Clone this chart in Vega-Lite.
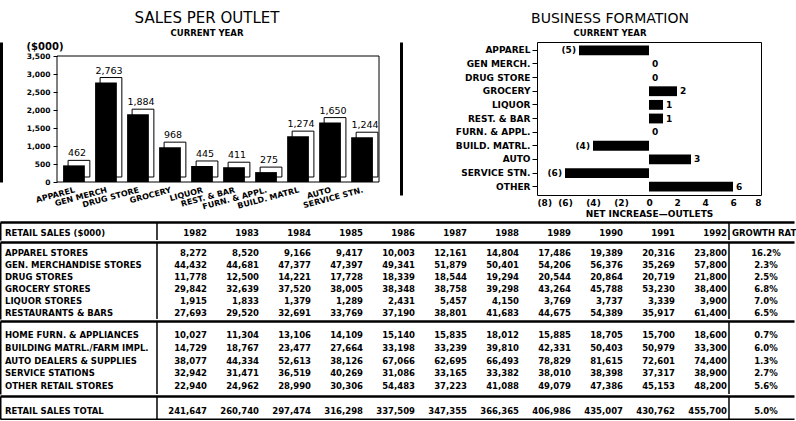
{
  "$schema": "https://vega.github.io/schema/vega-lite/v6.json",
  "background": "white",
  "padding": {"left": 0, "top": 10, "right": 0, "bottom": 0},
  "spacing": 2,
  "config": {
    "font": "DejaVu Sans",
    "view": {"stroke": "black", "strokeWidth": 1},
    "axis": {"labelColor": "black", "tickColor": "black", "domainColor": "black", "titleColor": "black", "labelFont": "DejaVu Sans", "titleFont": "DejaVu Sans", "grid": false},
    "title": {"font": "DejaVu Sans", "color": "black", "fontWeight": "normal", "subtitleFont": "DejaVu Sans", "subtitleColor": "black", "subtitleFontWeight": "bold"}
  },
  "datasets": {
    "outlet": [
      {"cat": "APPAREL", "value": 462},
      {"cat": "GEN MERCH", "value": 2763},
      {"cat": "DRUG STORE", "value": 1884},
      {"cat": "GROCERY", "value": 968},
      {"cat": "LIQUOR", "value": 445},
      {"cat": "REST. & BAR", "value": 411},
      {"cat": "FURN. & APPL.", "value": 275},
      {"cat": "BUILD. MATRL", "value": 1274},
      {"cat": "AUTO", "value": 1650},
      {"cat": "SERVICE STN.", "value": 1244}
    ],
    "formation": [
      {"cat": "APPAREL", "value": -5},
      {"cat": "GEN MERCH.", "value": 0},
      {"cat": "DRUG STORE", "value": 0},
      {"cat": "GROCERY", "value": 2},
      {"cat": "LIQUOR", "value": 1},
      {"cat": "REST. & BAR", "value": 1},
      {"cat": "FURN. & APPL.", "value": 0},
      {"cat": "BUILD. MATRL.", "value": -4},
      {"cat": "AUTO", "value": 3},
      {"cat": "SERVICE STN.", "value": -6},
      {"cat": "OTHER", "value": 6}
    ],
    "table": [
      {"sec": "h", "row": "RETAIL SALES ($000)", "1982": "1982", "1983": "1983", "1984": "1984", "1985": "1985", "1986": "1986", "1987": "1987", "1988": "1988", "1989": "1989", "1990": "1990", "1991": "1991", "1992": "1992", "GR": "GROWTH RAT"},
      {"sec": "b1", "row": "APPAREL STORES", "1982": "8,272", "1983": "8,520", "1984": "9,166", "1985": "9,417", "1986": "10,003", "1987": "12,161", "1988": "14,804", "1989": "17,486", "1990": "19,389", "1991": "20,316", "1992": "23,800", "GR": "16.2%"},
      {"sec": "b1", "row": "GEN. MERCHANDISE STORES", "1982": "44,432", "1983": "44,681", "1984": "47,377", "1985": "47,397", "1986": "49,341", "1987": "51,879", "1988": "50,401", "1989": "54,206", "1990": "56,376", "1991": "35,269", "1992": "57,800", "GR": "2.3%"},
      {"sec": "b1", "row": "DRUG STORES", "1982": "11,778", "1983": "12,500", "1984": "14,221", "1985": "17,728", "1986": "18,339", "1987": "18,544", "1988": "19,294", "1989": "20,544", "1990": "20,864", "1991": "20,719", "1992": "21,800", "GR": "2.5%"},
      {"sec": "b1", "row": "GROCERY STORES", "1982": "29,842", "1983": "32,639", "1984": "37,520", "1985": "38,005", "1986": "38,348", "1987": "38,758", "1988": "39,298", "1989": "43,264", "1990": "45,788", "1991": "53,230", "1992": "38,400", "GR": "6.8%"},
      {"sec": "b1", "row": "LIQUOR STORES", "1982": "1,915", "1983": "1,833", "1984": "1,379", "1985": "1,289", "1986": "2,431", "1987": "5,457", "1988": "4,150", "1989": "3,769", "1990": "3,737", "1991": "3,339", "1992": "3,900", "GR": "7.0%"},
      {"sec": "b1", "row": "RESTAURANTS & BARS", "1982": "27,693", "1983": "29,520", "1984": "32,691", "1985": "33,769", "1986": "37,190", "1987": "38,801", "1988": "41,683", "1989": "44,675", "1990": "54,389", "1991": "35,917", "1992": "61,400", "GR": "6.5%"},
      {"sec": "b2", "row": "HOME FURN. & APPLIANCES", "1982": "10,027", "1983": "11,304", "1984": "13,106", "1985": "14,109", "1986": "15,140", "1987": "15,835", "1988": "18,012", "1989": "15,885", "1990": "18,705", "1991": "15,700", "1992": "18,600", "GR": "0.7%"},
      {"sec": "b2", "row": "BUILDING MATRL./FARM IMPL.", "1982": "14,729", "1983": "18,767", "1984": "23,477", "1985": "27,664", "1986": "33,198", "1987": "33,239", "1988": "39,810", "1989": "42,331", "1990": "50,403", "1991": "50,979", "1992": "33,300", "GR": "6.0%"},
      {"sec": "b2", "row": "AUTO DEALERS & SUPPLIES", "1982": "38,077", "1983": "44,334", "1984": "52,613", "1985": "38,126", "1986": "67,066", "1987": "62,695", "1988": "66,493", "1989": "78,829", "1990": "81,615", "1991": "72,601", "1992": "74,400", "GR": "1.3%"},
      {"sec": "b2", "row": "SERVICE STATIONS", "1982": "32,942", "1983": "31,471", "1984": "36,519", "1985": "40,269", "1986": "31,086", "1987": "33,165", "1988": "33,382", "1989": "38,010", "1990": "38,398", "1991": "37,317", "1992": "38,900", "GR": "2.7%"},
      {"sec": "b2", "row": "OTHER RETAIL STORES", "1982": "22,940", "1983": "24,962", "1984": "28,990", "1985": "30,306", "1986": "54,483", "1987": "37,223", "1988": "41,088", "1989": "49,079", "1990": "47,386", "1991": "45,153", "1992": "48,200", "GR": "5.6%"},
      {"sec": "t", "row": "RETAIL SALES TOTAL", "1982": "241,647", "1983": "260,740", "1984": "297,474", "1985": "316,298", "1986": "337,509", "1987": "347,355", "1988": "366,365", "1989": "406,986", "1990": "435,007", "1991": "430,762", "1992": "455,700", "GR": "5.0%"}
    ]
  },
  "resolve": {"scale": {"x": "independent", "y": "independent"}},
  "vconcat": [
    {
      "spacing": 0,
      "resolve": {"scale": {"x": "independent", "y": "independent"}},
      "hconcat": [
        {
          "width": 1, "height": 1,
          "view": {"stroke": null},
          "data": {"values": []},
          "mark": {"type": "rule"},
          "encoding": {}
        },
        {
          "spacing": 20,
          "resolve": {"scale": {"x": "independent", "y": "independent"}},
          "hconcat": [
            {
              "width": 322,
              "height": 140,
              "view": {"stroke": null},
              "data": {"name": "outlet"},
              "title": {"text": "SALES PER OUTLET", "subtitle": "CURRENT YEAR", "fontSize": 15, "subtitleFontSize": 8.5, "subtitlePadding": 3, "offset": 4, "dx": -11, "anchor": "middle", "frame": "group"},
              "layer": [
                {
                  "data": {"values": [{"lo": 0, "hi": 3500}]},
                  "mark": {"type": "rect", "fill": null, "fillOpacity": 0, "stroke": "black", "strokeWidth": 1},
                  "encoding": {
                    "y": {"field": "lo", "type": "quantitative", "axis": null},
                    "y2": {"field": "hi"}
                  }
                },
                {
                  "mark": {"type": "bar", "fill": "white", "stroke": "black", "strokeWidth": 1, "xOffset": 5, "x2Offset": 5, "yOffset": -5, "y2Offset": -5},
                  "encoding": {
                    "x": {"field": "cat", "type": "nominal", "sort": null,
                      "scale": {"domain": ["APPAREL", "GEN MERCH", "DRUG STORE", "GROCERY", "LIQUOR", "REST. & BAR", "FURN. & APPL.", "BUILD. MATRL", "AUTO", "SERVICE STN."], "paddingInner": 0.32, "paddingOuter": 0.19},
                      "axis": {"title": null, "labelAngle": -15, "labelAlign": "right", "labelBaseline": "top", "labelFontSize": 8, "labelFontWeight": "bold", "ticks": false, "domain": false, "labelPadding": 4}},
                    "y": {"field": "value", "type": "quantitative", "scale": {"domain": [0, 3889], "nice": false},
                      "axis": {"orient": "left", "offset": 56, "domainWidth": 3, "labels": false, "ticks": false, "title": null}}
                  }
                },
                {
                  "mark": {"type": "bar", "fill": "black"},
                  "encoding": {
                    "x": {"field": "cat", "type": "nominal", "sort": null},
                    "y": {"field": "value", "type": "quantitative",
                      "axis": {"orient": "left", "values": [0, 500, 1000, 1500, 2000, 2500, 3000, 3500], "labelExpr": "format(datum.value, ',')", "labelFontSize": 7.5, "labelFontWeight": "bold", "tickSize": 4, "labelPadding": 3, "domain": false, "title": "($000)", "titleAngle": 0, "titleAlign": "left", "titleBaseline": "bottom", "titleX": -31, "titleY": 9, "titleFontSize": 10, "titleFontWeight": "bold"}}
                  }
                },
                {
                  "mark": {"type": "text", "baseline": "bottom", "dy": -7, "dx": 3, "fontSize": 9.5, "fontWeight": "normal", "color": "black"},
                  "encoding": {
                    "x": {"field": "cat", "type": "nominal", "sort": null},
                    "y": {"field": "value", "type": "quantitative", "axis": null},
                    "text": {"field": "value", "format": ","}
                  }
                }
              ],
              "resolve": {"axis": {"y": "independent"}}
            },
            {
              "width": 224,
              "height": 153,
              "data": {"name": "formation"},
              "title": {"text": "BUSINESS FORMATION", "subtitle": "CURRENT YEAR", "fontSize": 14, "subtitleFontSize": 8.5, "subtitlePadding": 3, "offset": 5, "dx": -39, "anchor": "middle", "frame": "group"},
              "encoding": {
                "x": {"field": "value", "type": "quantitative", "scale": {"domain": [-8, 8], "nice": false},
                  "axis": {"values": [-8, -6, -4, -2, 0, 2, 4, 6, 8], "format": "(d", "labelFontSize": 9, "labelFontWeight": "bold", "ticks": false, "domain": false, "labelPadding": 3, "title": "NET INCREASE—OUTLETS", "titleFontSize": 9, "titleFontWeight": "bold", "titlePadding": 2}}
              },
              "layer": [
                {
                  "mark": {"type": "bar", "fill": "black"},
                  "encoding": {"y": {"field": "cat", "type": "nominal", "sort": null,
                    "scale": {"domain": ["APPAREL", "GEN MERCH.", "DRUG STORE", "GROCERY", "LIQUOR", "REST. & BAR", "FURN. & APPL.", "BUILD. MATRL.", "AUTO", "SERVICE STN.", "OTHER"], "paddingInner": 0.28, "paddingOuter": 0.25},
                    "axis": {"orient": "left", "title": null, "labelFontSize": 9, "labelFontWeight": "bold", "tickSize": 5, "labelPadding": 2, "domain": false}}}
                },
                {
                  "transform": [{"filter": "datum.value < 0"}],
                  "mark": {"type": "text", "align": "right", "baseline": "middle", "dx": -3, "fontSize": 9, "fontWeight": "bold", "color": "black"},
                  "encoding": {"y": {"field": "cat", "type": "nominal", "sort": null,
                    "axis": {"orient": "left", "offset": 136, "domainWidth": 3, "labels": false, "ticks": false, "title": null}},
                    "text": {"field": "value", "format": "(d"}}
                },
                {
                  "transform": [{"filter": "datum.value >= 0"}],
                  "mark": {"type": "text", "align": "left", "baseline": "middle", "dx": 3, "fontSize": 9, "fontWeight": "bold", "color": "black"},
                  "encoding": {"y": {"field": "cat", "type": "nominal", "sort": null, "axis": null},
                    "text": {"field": "value", "format": "d"}}
                }
              ],
              "resolve": {"axis": {"y": "independent"}}
            }
          ]
        }
      ]
    },
    {
      "spacing": 0,
      "resolve": {"scale": {"x": "independent", "y": "independent"}},
      "vconcat": [
        {
          "width": 794, "height": 18,
          "view": {"stroke": null},
          "data": {"name": "table"},
          "layer": [
            {"transform": [{"filter": "datum.sec == 'h'"}],
              "mark": {"type": "text", "align": "left", "baseline": "middle", "dx": 4, "fontSize": 8.5, "fontWeight": "bold", "color": "black"},
              "encoding": {"x": {"datum": "L1", "type": "nominal", "bandPosition": 0,
                "axis": {"orient": "top", "domain": true, "domainWidth": 2.5, "labels": false, "ticks": false, "title": null},
                "scale": {"type": "band", "domain": ["L1", "L2", "L3", "1982", "1983", "1984", "1985", "1986", "1987", "1988", "1989", "1990", "1991", "1992", "GR"], "paddingInner": 0, "paddingOuter": 0.1346, "align": 0.071}},
                "y": {"field": "row", "type": "nominal", "axis": {"orient": "left", "domain": true, "domainWidth": 2, "labels": false, "ticks": false, "title": null}, "scale": {"type": "band", "domain": ["RETAIL SALES ($000)"], "paddingInner": 0, "paddingOuter": 0.5, "align": 0.7}},
                "text": {"field": "row"}}},
            {"transform": [{"filter": "datum.sec == 'h'"}, {"fold": ["1982", "1983", "1984", "1985", "1986", "1987", "1988", "1989", "1990", "1991", "1992"], "as": ["col", "val"]}],
              "mark": {"type": "text", "align": "right", "baseline": "middle", "dx": -2, "fontSize": 8.5, "fontWeight": "bold", "color": "black"},
              "encoding": {"x": {"field": "col", "type": "nominal", "bandPosition": 1}, "y": {"field": "row", "type": "nominal"}, "text": {"field": "val"}}},
            {"transform": [{"filter": "datum.sec == 'h'"}, {"fold": ["GR"], "as": ["col", "val"]}],
              "mark": {"type": "text", "align": "left", "baseline": "middle", "dx": 3, "fontSize": 8.5, "fontWeight": "bold", "color": "black"},
              "encoding": {"x": {"field": "col", "type": "nominal", "bandPosition": 0}, "y": {"field": "row", "type": "nominal"}, "text": {"field": "val"}}},
            {"data": {"values": [{"col": "1982"}, {"col": "GR"}]},
              "mark": {"type": "rule", "strokeWidth": 1.5, "color": "black"},
              "encoding": {"x": {"field": "col", "type": "nominal", "bandPosition": 0}}}
          ]
        },
        {
          "width": 794, "height": 77,
          "view": {"stroke": null},
          "data": {"name": "table"},
          "layer": [
            {"transform": [{"filter": "datum.sec == 'b1'"}],
              "mark": {"type": "text", "align": "left", "baseline": "middle", "dx": 4, "fontSize": 8.5, "fontWeight": "bold", "color": "black"},
              "encoding": {"x": {"datum": "L1", "type": "nominal", "bandPosition": 0,
                "axis": {"orient": "top", "domain": true, "domainWidth": 2.5, "labels": false, "ticks": false, "title": null},
                "scale": {"type": "band", "domain": ["L1", "L2", "L3", "1982", "1983", "1984", "1985", "1986", "1987", "1988", "1989", "1990", "1991", "1992", "GR"], "paddingInner": 0, "paddingOuter": 0.1346, "align": 0.071}},
                "y": {"field": "row", "type": "nominal", "axis": {"orient": "left", "domain": true, "domainWidth": 2, "labels": false, "ticks": false, "title": null}, "scale": {"type": "band", "domain": ["APPAREL STORES", "GEN. MERCHANDISE STORES", "DRUG STORES", "GROCERY STORES", "LIQUOR STORES", "RESTAURANTS & BARS"], "paddingInner": 0, "paddingOuter": 0.208, "align": 1}},
                "text": {"field": "row"}}},
            {"transform": [{"filter": "datum.sec == 'b1'"}, {"fold": ["1982", "1983", "1984", "1985", "1986", "1987", "1988", "1989", "1990", "1991", "1992"], "as": ["col", "val"]}],
              "mark": {"type": "text", "align": "right", "baseline": "middle", "dx": -2, "fontSize": 8.5, "fontWeight": "bold", "color": "black"},
              "encoding": {"x": {"field": "col", "type": "nominal", "bandPosition": 1}, "y": {"field": "row", "type": "nominal"}, "text": {"field": "val"}}},
            {"transform": [{"filter": "datum.sec == 'b1'"}, {"fold": ["GR"], "as": ["col", "val"]}],
              "mark": {"type": "text", "align": "center", "baseline": "middle", "fontSize": 8.5, "fontWeight": "bold", "color": "black"},
              "encoding": {"x": {"field": "col", "type": "nominal", "bandPosition": 0.71}, "y": {"field": "row", "type": "nominal"}, "text": {"field": "val"}}},
            {"data": {"values": [{"col": "1982"}, {"col": "GR"}]},
              "mark": {"type": "rule", "strokeWidth": 1.5, "color": "black"},
              "encoding": {"x": {"field": "col", "type": "nominal", "bandPosition": 0}}}
          ]
        },
        {
          "width": 794, "height": 73,
          "view": {"stroke": null},
          "data": {"name": "table"},
          "layer": [
            {"transform": [{"filter": "datum.sec == 'b2'"}],
              "mark": {"type": "text", "align": "left", "baseline": "middle", "dx": 4, "fontSize": 8.5, "fontWeight": "bold", "color": "black"},
              "encoding": {"x": {"datum": "L1", "type": "nominal", "bandPosition": 0,
                "axis": {"orient": "top", "domain": true, "domainWidth": 2.5, "labels": false, "ticks": false, "title": null},
                "scale": {"type": "band", "domain": ["L1", "L2", "L3", "1982", "1983", "1984", "1985", "1986", "1987", "1988", "1989", "1990", "1991", "1992", "GR"], "paddingInner": 0, "paddingOuter": 0.1346, "align": 0.071}},
                "y": {"field": "row", "type": "nominal", "axis": {"orient": "left", "domain": true, "domainWidth": 2, "labels": false, "ticks": false, "title": null}, "scale": {"type": "band", "domain": ["HOME FURN. & APPLIANCES", "BUILDING MATRL./FARM IMPL.", "AUTO DEALERS & SUPPLIES", "SERVICE STATIONS", "OTHER RETAIL STORES"], "paddingInner": 0, "paddingOuter": 0.4, "align": 0.81}},
                "text": {"field": "row"}}},
            {"transform": [{"filter": "datum.sec == 'b2'"}, {"fold": ["1982", "1983", "1984", "1985", "1986", "1987", "1988", "1989", "1990", "1991", "1992"], "as": ["col", "val"]}],
              "mark": {"type": "text", "align": "right", "baseline": "middle", "dx": -2, "fontSize": 8.5, "fontWeight": "bold", "color": "black"},
              "encoding": {"x": {"field": "col", "type": "nominal", "bandPosition": 1}, "y": {"field": "row", "type": "nominal"}, "text": {"field": "val"}}},
            {"transform": [{"filter": "datum.sec == 'b2'"}, {"fold": ["GR"], "as": ["col", "val"]}],
              "mark": {"type": "text", "align": "center", "baseline": "middle", "fontSize": 8.5, "fontWeight": "bold", "color": "black"},
              "encoding": {"x": {"field": "col", "type": "nominal", "bandPosition": 0.71}, "y": {"field": "row", "type": "nominal"}, "text": {"field": "val"}}},
            {"data": {"values": [{"col": "1982"}, {"col": "GR"}]},
              "mark": {"type": "rule", "strokeWidth": 1.5, "color": "black"},
              "encoding": {"x": {"field": "col", "type": "nominal", "bandPosition": 0}}}
          ]
        },
        {
          "width": 794, "height": 23,
          "view": {"stroke": null},
          "data": {"name": "table"},
          "resolve": {"axis": {"x": "independent"}},
          "layer": [
            {"transform": [{"filter": "datum.sec == 't'"}],
              "mark": {"type": "text", "align": "left", "baseline": "middle", "dx": 4, "fontSize": 8.5, "fontWeight": "bold", "color": "black"},
              "encoding": {"x": {"datum": "L1", "type": "nominal", "bandPosition": 0,
                "axis": {"orient": "top", "domain": true, "domainWidth": 2.5, "labels": false, "ticks": false, "title": null},
                "scale": {"type": "band", "domain": ["L1", "L2", "L3", "1982", "1983", "1984", "1985", "1986", "1987", "1988", "1989", "1990", "1991", "1992", "GR"], "paddingInner": 0, "paddingOuter": 0.1346, "align": 0.071}},
                "y": {"field": "row", "type": "nominal", "axis": {"orient": "left", "domain": true, "domainWidth": 2, "labels": false, "ticks": false, "title": null}, "scale": {"type": "band", "domain": ["RETAIL SALES TOTAL"], "paddingInner": 0, "paddingOuter": 0.5, "align": 0.8}},
                "text": {"field": "row"}}},
            {"transform": [{"filter": "datum.sec == 't'"}, {"fold": ["1982", "1983", "1984", "1985", "1986", "1987", "1988", "1989", "1990", "1991", "1992"], "as": ["col", "val"]}],
              "mark": {"type": "text", "align": "right", "baseline": "middle", "dx": -2, "fontSize": 8.5, "fontWeight": "bold", "color": "black"},
              "encoding": {"x": {"field": "col", "type": "nominal", "bandPosition": 1, "axis": null}, "y": {"field": "row", "type": "nominal"}, "text": {"field": "val"}}},
            {"transform": [{"filter": "datum.sec == 't'"}, {"fold": ["GR"], "as": ["col", "val"]}],
              "mark": {"type": "text", "align": "center", "baseline": "middle", "fontSize": 8.5, "fontWeight": "bold", "color": "black"},
              "encoding": {"x": {"field": "col", "type": "nominal", "bandPosition": 0.71, "axis": {"orient": "bottom", "domain": true, "domainWidth": 2, "labels": false, "ticks": false, "title": null}}, "y": {"field": "row", "type": "nominal"}, "text": {"field": "val"}}},
            {"data": {"values": [{"col": "1982"}, {"col": "GR"}]},
              "mark": {"type": "rule", "strokeWidth": 1.5, "color": "black"},
              "encoding": {"x": {"field": "col", "type": "nominal", "bandPosition": 0, "axis": null}}}
          ]
        }
      ]
    }
  ]
}
